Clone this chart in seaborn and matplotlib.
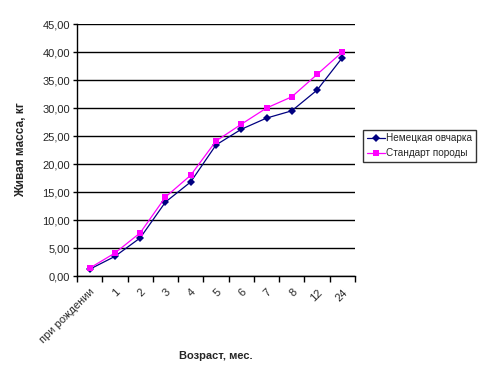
import pandas as pd
import seaborn as sns
import matplotlib.pyplot as plt
import numpy as np

ages = ['при рождении', '1', '2', '3', '4', '5', '6', '7', '8', '12', '24']
shepherd = [1.2, 3.5, 6.8, 13.2, 16.8, 23.4, 26.2, 28.2, 29.5, 33.2, 39.0]
standard = [1.4, 4.1, 7.7, 14.1, 18.0, 24.1, 27.1, 30.0, 32.0, 36.0, 40.0]

names = ['Немецкая овчарка', 'Стандарт породы']
colors = ['#000080', '#FF00FF']
markers = ['D', 's']

df = pd.DataFrame({
    'age': ages * 2,
    'pos': list(range(len(ages))) * 2,
    'mass': shepherd + standard,
    'series': [names[0]] * len(ages) + [names[1]] * len(ages),
})

sns.set_style('white')
plt.rcParams['font.family'] = ['Liberation Sans', 'DejaVu Sans']

fig = plt.figure(figsize=(4.89, 3.88), dpi=100)
ax = fig.add_axes([77/489, 1 - 276/388, (355 - 77)/489, (276 - 24)/388])

sns.lineplot(data=df, x='pos', y='mass', hue='series', style='series',
             palette=colors, markers=markers, dashes=False, markersize=4,
             markeredgewidth=0, linewidth=0.9, sort=False, ax=ax)

ax.set_xlim(-0.5, len(ages) - 0.5)
ax.set_ylim(0, 45)
ax.set_yticks(np.arange(0, 46, 5))
ax.set_yticklabels(['{:.2f}'.format(v).replace('.', ',') for v in np.arange(0, 46, 5)], fontsize=8)
ax.yaxis.grid(True, color='black', linewidth=1)
ax.xaxis.grid(False)

ax.set_xticks(range(len(ages)))
ax.set_xticklabels(ages, rotation=45, ha='right', rotation_mode='anchor', fontsize=8)
ax.set_xticks(np.arange(-0.5, len(ages), 1), minor=True)
ax.tick_params(axis='x', which='major', length=0, pad=8)
ax.tick_params(axis='x', which='minor', length=4, width=1, color='black', direction='out', bottom=True)
ax.tick_params(axis='y', length=3, width=1, color='black', direction='out', left=True, pad=2)

for s in ['top', 'right']:
    ax.spines[s].set_visible(False)
for s in ['left', 'bottom']:
    ax.spines[s].set_color('black')
    ax.spines[s].set_linewidth(1)

ax.set_xlabel('Возраст, мес.', fontsize=8, fontweight='bold', labelpad=4)
ax.set_ylabel('Живая масса, кг', fontsize=8.5, fontweight='bold', labelpad=11)

handles, labels = ax.get_legend_handles_labels()
leg = ax.legend(handles, labels, loc='upper left', bbox_to_anchor=(363/489, 1 - 130/388),
                bbox_transform=fig.transFigure, fontsize=7.2, frameon=True, fancybox=False,
                handlelength=1.8, handletextpad=0.2, borderpad=0.35, borderaxespad=0,
                labelspacing=0.5)
leg.get_frame().set_edgecolor('black')
leg.get_frame().set_linewidth(1)

plt.savefig('out.png', dpi=100)
